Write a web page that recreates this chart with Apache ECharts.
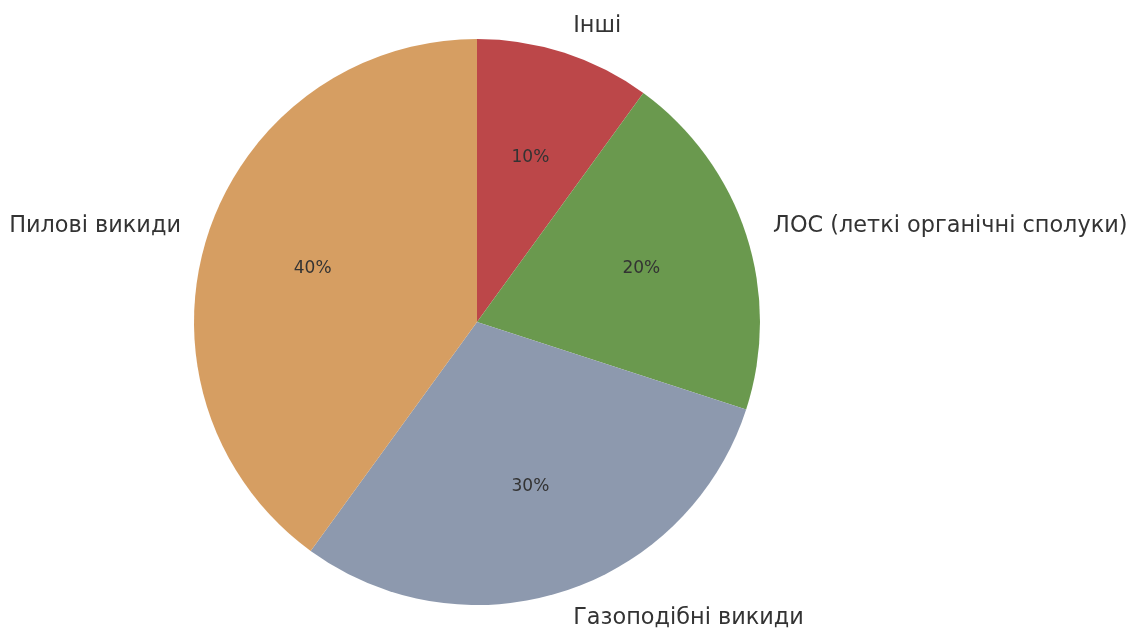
<!DOCTYPE html>
<html>
<head>
<meta charset="utf-8">
<script src="https://cdn.jsdelivr.net/npm/echarts@6/dist/echarts.min.js"></script>
<style>
html,body{margin:0;padding:0;background:#fff;}
#c{width:1131px;height:628px;}
</style>
</head>
<body>
<div id="c"></div>
<script>
const categories = ["Інші", "ЛОС (леткі органічні сполуки)", "Газоподібні викиди", "Пилові викиди"];
const values = [10, 20, 30, 40];
const colors = ["#bc4749", "#6a994e", "#8d99ae", "#d69e62"];

const R = 283;
const center = [477, 322];
const data = categories.map((n, i) => ({ name: n, value: values[i], itemStyle: { color: colors[i] } }));
const total = values.reduce((a, b) => a + b, 0);

const chart = echarts.init(document.getElementById('c'), null, { renderer: 'canvas' });
chart.setOption({
  backgroundColor: '#fff',
  animation: false,
  series: [
    {
      type: 'pie',
      center: center,
      radius: [0, R],
      startAngle: 90,
      clockwise: true,
      avoidLabelOverlap: false,
      silent: true,
      data: data,
      itemStyle: { borderWidth: 0 },
      label: {
        show: true,
        position: 'outside',
        formatter: '{b}',
        fontFamily: 'DejaVu Sans',
        fontSize: 22.4,
        color: '#333',
        distanceToLabelLine: 0
      },
      labelLine: { show: false, length: R * 0.1, length2: 0 },
      z: 2
    },
    {
      type: 'pie',
      center: center,
      radius: [0, R * 1.2],
      startAngle: 90,
      clockwise: true,
      avoidLabelOverlap: false,
      silent: true,
      data: categories.map((n, i) => ({ name: n, value: values[i] })),
      itemStyle: { color: 'rgba(0,0,0,0)', borderWidth: 0 },
      label: {
        show: true,
        position: 'inside',
        formatter: p => Math.round(p.value / total * 100) + '%',
        fontFamily: 'DejaVu Sans',
        fontSize: 17,
        color: '#333'
      },
      labelLine: { show: false },
      z: 3
    }
  ]
});
</script>
</body>
</html>
